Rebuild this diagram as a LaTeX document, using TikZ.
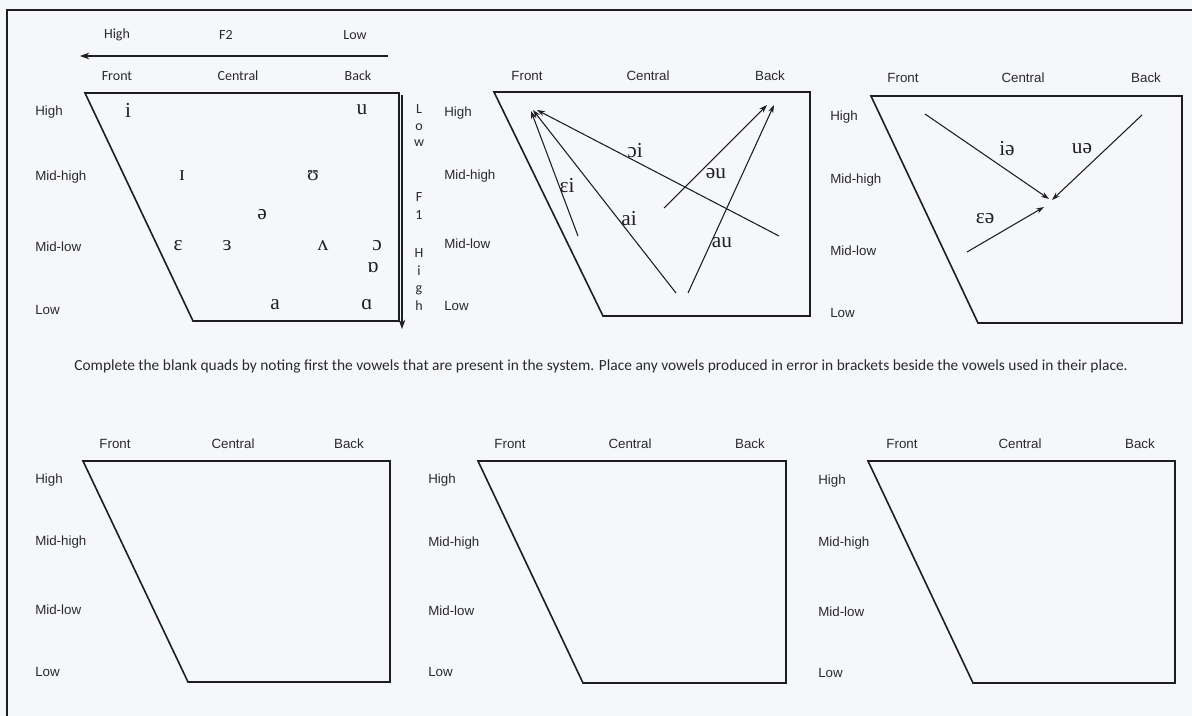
\documentclass[tikz,border=0pt]{standalone}
\usepackage{fontspec}
\usepackage{graphicx}
\setmainfont{Liberation Sans}
\newfontfamily\calfont{Carlito}
\newfontfamily\ipafont{Liberation Serif}
\usetikzlibrary{arrows.meta}
\definecolor{linecol}{HTML}{1E1E1E}
\definecolor{txtcol}{HTML}{2A2A2A}
\definecolor{vowcol}{HTML}{202020}
\definecolor{bgcol}{HTML}{F6F7FA}
\begin{document}
\begin{tikzpicture}[x=0.75pt,y=-0.75pt,
  quad/.style={draw=linecol, line width=1.2pt, line join=miter},
  lbl/.style={font=\fontsize{10}{12}\selectfont, text=txtcol, inner sep=0pt},
  rowlbl/.style={lbl, anchor=west},
  callbl/.style={font=\calfont\fontsize{10.5}{12}\selectfont, text=txtcol, inner sep=0pt},
  vow/.style={font=\ipafont\fontsize{16}{18}\selectfont, text=vowcol, inner sep=0pt},
  glide/.style={draw=linecol, line width=0.8pt, -{Stealth[length=6pt,width=4pt]}},
  axisarrow/.style={draw=linecol, line width=1pt, -{Stealth[length=7pt,width=5pt]}},
  frameline/.style={draw=linecol, line width=1.5pt},
]
\useasboundingbox (0,0) rectangle (1192,716);
\fill[bgcol] (0,0) rectangle (1192,716);
% page frame
\coordinate (fTL) at (7,10);
\coordinate (fBL) at (7,716);
\coordinate (fTR) at (1192,10);
\draw[frameline] (fBL) -- (fTL) -- (fTR);

% ---------- Quad 1 ----------
\draw[quad] (85,93) -- (399,93) -- (399,321) -- (193,321) -- cycle;
\node[callbl] (f2high) at (117,35) {High};
\node[callbl] (f2) at (226,35) {F2};
\node[callbl] (f2low) at (355,35) {Low};
\coordinate (f2s) at (388,56);
\coordinate (f2e) at (80,56);
\draw[axisarrow] (f2s) -- (f2e);
\node[callbl] (q1front) at (117,76) {Front};
\node[callbl] (q1central) at (238,76) {Central};
\node[callbl] (q1back) at (358,76) {Back};
\coordinate (f1s) at (402,95);
\coordinate (f1e) at (402,329);
\draw[axisarrow] (f1s) -- (f1e);
\node[callbl] (f1L) at (419,109) {L};
\node[callbl] (f1o) at (419,127) {o};
\node[callbl] (f1w) at (419,143) {w};
\node[callbl] (f1F) at (419,197) {F};
\node[callbl] (f1one) at (419,215) {1};
\node[callbl] (f1H) at (419,253) {H};
\node[callbl] (f1i) at (419,271) {i};
\node[callbl] (f1g) at (419,290) {g};
\node[callbl] (f1h) at (419,306) {h};
\node[rowlbl] (q1high) at (35,112) {High};
\node[rowlbl] (q1mh) at (35,177) {Mid-high};
\node[rowlbl] (q1ml) at (35,247) {Mid-low};
\node[rowlbl] (q1low) at (35,310) {Low};
\node[vow] (vi) at (128,110) {i};
\node[vow] (vu) at (362,110) {u};
\node[vow] (vI) at (182,176) {ɪ};
\node[vow] (vU) at (313,176) {ʊ};
\node[vow] (vschwa) at (262,215) {ə};
\node[vow] (veps) at (178,246) {ɛ};
\node[vow] (vrev) at (227,246) {ɜ};
\node[vow] (vwedge) at (323,246) {ʌ};
\node[vow] (vopen) at (377,246) {ɔ};
\node[vow] (vturn) at (373,268) {ɒ};
\node[vow] (va) at (275,305) {a};
\node[vow] (valpha) at (367,305) {ɑ};

% ---------- Quad 2 ----------
\draw[quad] (494,92) -- (810,92) -- (810,316) -- (603,316) -- cycle;
\node[lbl] (q2front) at (527,76) {Front};
\node[lbl] (q2central) at (648,76) {Central};
\node[lbl] (q2back) at (770,76) {Back};
\node[rowlbl] (q2high) at (444,113) {High};
\node[rowlbl] (q2mh) at (444,176) {Mid-high};
\node[rowlbl] (q2ml) at (444,244) {Mid-low};
\node[rowlbl] (q2low) at (444,306) {Low};
\coordinate (ei-s) at (578,236);
\coordinate (ei-e) at (531,111);
\coordinate (ai-s) at (676,293);
\coordinate (ai-e) at (533,110);
\coordinate (oi-s) at (779,236);
\coordinate (oi-e) at (537,110);
\coordinate (ou-s) at (664,208);
\coordinate (ou-e) at (767,105);
\coordinate (au-s) at (688,293);
\coordinate (au-e) at (774,105);
\draw[glide] (ei-s) -- (ei-e);
\draw[glide] (ai-s) -- (ai-e);
\draw[glide] (oi-s) -- (oi-e);
\draw[glide] (ou-s) -- (ou-e);
\draw[glide] (au-s) -- (au-e);
\node[vow] (loi) at (635,151) {ɔi};
\node[vow] (lou) at (716,174) {əu};
\node[vow] (lei) at (567,186) {ɛi};
\node[vow] (lai) at (629,219) {ai};
\node[vow] (lau) at (722,243) {au};

% ---------- Quad 3 ----------
\draw[quad] (871,96) -- (1182,96) -- (1182,323) -- (978,323) -- cycle;
\node[lbl] (q3front) at (903,78) {Front};
\node[lbl] (q3central) at (1023,78) {Central};
\node[lbl] (q3back) at (1146,78) {Back};
\node[rowlbl] (q3high) at (830,117) {High};
\node[rowlbl] (q3mh) at (830,180) {Mid-high};
\node[rowlbl] (q3ml) at (830,251) {Mid-low};
\node[rowlbl] (q3low) at (830,313) {Low};
\coordinate (ia-s) at (925,114);
\coordinate (ia-e) at (1049,199);
\coordinate (ua-s) at (1142,115);
\coordinate (ua-e) at (1052,200);
\coordinate (ea-s) at (967,252);
\coordinate (ea-e) at (1044,207);
\draw[glide] (ia-s) -- (ia-e);
\draw[glide] (ua-s) -- (ua-e);
\draw[glide] (ea-s) -- (ea-e);
\node[vow] (lia) at (1007,149) {iə};
\node[vow] (lua) at (1082,149) {uə};
\node[vow] (lea) at (985,219) {ɛə};

% ---------- instruction ----------
\node[inner sep=0pt, text=txtcol] (instr) at (601,366) {\resizebox{790pt}{!}{\calfont Complete the blank quads by noting first the vowels that are present in the system. Place any vowels produced in error in brackets beside the vowels used in their place.}};

% ---------- Quad 4 ----------
\draw[quad] (83,461) -- (390,461) -- (390,682) -- (188,682) -- cycle;
\node[lbl] (q4front) at (115,444) {Front};
\node[lbl] (q4central) at (233,444) {Central};
\node[lbl] (q4back) at (349,444) {Back};
\node[rowlbl] (q4high) at (35,480) {High};
\node[rowlbl] (q4mh) at (35,542) {Mid-high};
\node[rowlbl] (q4ml) at (35,610) {Mid-low};
\node[rowlbl] (q4low) at (35,672) {Low};

% ---------- Quad 5 ----------
\draw[quad] (478,461) -- (786,461) -- (786,683) -- (583,683) -- cycle;
\node[lbl] (q5front) at (510,444) {Front};
\node[lbl] (q5central) at (630,444) {Central};
\node[lbl] (q5back) at (750,444) {Back};
\node[rowlbl] (q5high) at (428,480) {High};
\node[rowlbl] (q5mh) at (428,543) {Mid-high};
\node[rowlbl] (q5ml) at (428,611) {Mid-low};
\node[rowlbl] (q5low) at (428,672) {Low};

% ---------- Quad 6 ----------
\draw[quad] (868,461) -- (1175,461) -- (1175,683) -- (973,683) -- cycle;
\node[lbl] (q6front) at (902,444) {Front};
\node[lbl] (q6central) at (1020,444) {Central};
\node[lbl] (q6back) at (1140,444) {Back};
\node[rowlbl] (q6high) at (818,481) {High};
\node[rowlbl] (q6mh) at (818,543) {Mid-high};
\node[rowlbl] (q6ml) at (818,612) {Mid-low};
\node[rowlbl] (q6low) at (818,673) {Low};
\end{tikzpicture}
\end{document}
